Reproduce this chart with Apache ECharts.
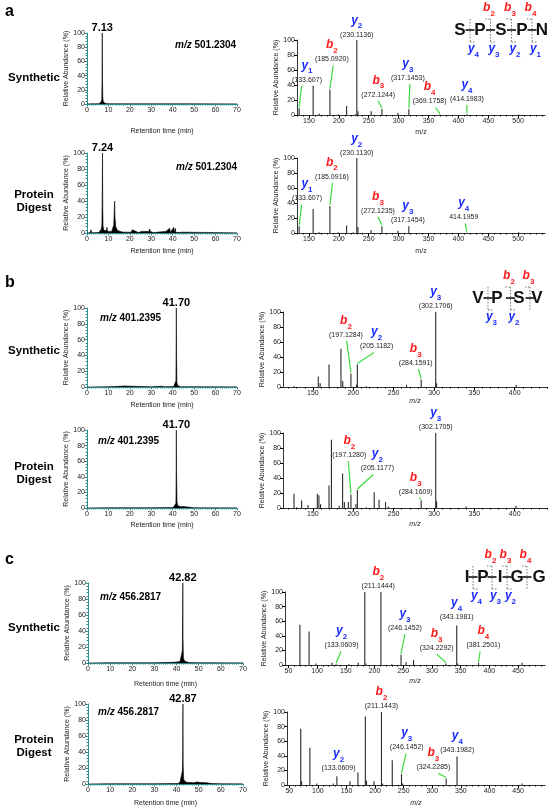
<!DOCTYPE html>
<html lang="en">
<head>
<meta charset="utf-8">
<title>XIC and MS/MS of synthetic and digest peptides</title>
<script src="https://cdn.jsdelivr.net/npm/echarts@6.0.0/dist/echarts.min.js"></script>
<style>
  html, body { margin: 0; padding: 0; background: #fff; }
  #main { width: 550px; height: 808px; }
</style>
</head>
<body>
<div id="main"></div>
<script>
// ===== data =====
// extracted ion chromatograms: [retention time (min), relative abundance (%)]
var xicA1 = [[0,0],[2,0.3],[4,0.3],[5.6,0.5],[6.2,1.5],[6.6,3],[6.9,6],[7.02,35],[7.13,100],[7.22,40],[7.35,10],[7.6,3],[8,1.5],[8.6,0.8],[10,0.3],[30,0.2],[50,0.2],[70,0.2]];
var xicA2 = [[0,0],[1.5,0.3],[1.9,4],[2.2,0.3],[5.5,0.5],[6.3,2],[6.7,5],[6.95,10],[7.1,45],[7.24,100],[7.35,30],[7.5,8],[7.9,3],[8.5,1.5],[9.1,3],[9.3,7],[9.6,2],[10.5,1],[11.5,2],[12.1,7],[12.5,10],[12.75,30],[12.9,40],[13.05,20],[13.4,8],[13.8,6],[14.3,3],[14.8,2],[15.2,5],[15.5,2],[17,1],[17.7,3],[18.3,1],[20.5,1],[21.2,4],[21.5,6],[21.9,2],[24,0.5],[25.4,2],[26,0.5],[28.8,2],[29.2,5],[29.6,2],[30.2,3],[31,0.5],[36.8,2],[37.2,0.5],[38.6,6],[38.9,0.5],[40.4,7],[40.7,0.5],[41.2,6],[41.5,0.5],[44.8,1],[45.5,0.3],[70,0.3]];
var xicB1 = [[0,0],[10,0.3],[17.6,1.2],[18,0.3],[30,0.3],[35,1],[36,0.3],[40.5,0.5],[41.1,2],[41.5,8],[41.62,60],[41.7,100],[41.8,40],[41.95,6],[42.3,2],[42.8,1],[43.5,0.4],[50,0.3],[70,0.3]];
var xicB2 = [[0,0],[10,0.3],[20,0.3],[30,0.3],[40.2,0.6],[41,2],[41.5,6],[41.62,50],[41.7,100],[41.8,45],[42,8],[42.4,3],[43,2],[43.8,1.5],[44.8,2],[45.5,0.5],[50,0.3],[70,0.3]];
var xicC1 = [[0,0],[10,0.3],[30,0.3],[38.5,0.8],[40,1.2],[41.5,1.8],[42.3,2.5],[42.6,15],[42.7,45],[42.82,100],[42.92,30],[43.1,6],[43.6,2.5],[44.5,1.5],[45.5,0.5],[50,0.3],[70,0.3]];
var xicC2 = [[0,0],[10,0.3],[30,0.3],[40.5,0.6],[41.5,2],[42.3,4],[42.6,16],[42.75,30],[42.87,100],[42.97,25],[43.2,6],[43.8,3],[44.8,2],[46,2],[46.9,3],[47.8,1.5],[49.2,2.5],[50.7,2],[51.5,1.2],[53.7,1.5],[55,0.8],[56.5,0.5],[60,0.3],[70,0.3]];

// MS/MS spectra: [m/z, relative abundance (%)]
var msA1 = [[131.5,1],[133.6,9],[157,39],[167,2],[185.09,34],[199,1],[213,12],[228,1],[230.11,100],[232,5],[254,5],[272.12,8],[299,3],[317.15,8],[369.18,0.6],[414.2,1],[501,0.6]];
var msA2 = [[133.6,9],[157,32],[167,1],[185.09,36],[199,1],[213,10],[224,1],[230.11,100],[232,8],[254,4],[272.12,9],[299,3],[317.15,9],[414.2,0.5],[501,1]];
var msB1 = [[126.5,1],[156.7,14],[159,5],[170,30],[184.8,51],[187,8],[197.13,18],[204,3],[205.12,30],[216,1],[266,3],[284.16,10],[302.17,100],[303.2,5],[401.7,3]];
var msB2 = [[126.6,19],[130,1],[136,10],[144,4],[155.5,19],[157.5,17],[159.5,5],[170,30],[173,91],[182.6,3],[186.8,46],[189,8],[194,8],[197.13,18],[203.3,5],[205.12,24],[216,1],[226,21],[232,11],[240,8],[243.5,2],[284.16,10],[302.17,100],[303.2,9],[339.6,2],[401.7,3]];
var msC1 = [[70,55],[86,46],[98,2],[126,3],[133.06,1],[155,1],[171.6,3],[183,100],[185,2],[211.14,100],[230,1],[246.15,14],[255,4],[268,7],[324.23,2],[343.2,54],[345,2],[381.25,3],[457,3]];
var msC2 = [[70,77],[71.5,5],[86,51],[98,2],[127,2],[133.2,12],[156,5],[170,17],[183,94],[185,6],[198,5],[211.14,100],[213,2],[230,34],[246.15,15],[248,2],[324.23,9],[343.2,39],[457,2]];

// annotated fragment ions: [series, number, label, m/z, abundance]
var ionsA1 = [['y','2','(230.1136)',230.11,100],['b','2','(185.0920)',185.09,34],['y','1','(133.607)',133.6,9],['b','3','(272.1244)',272.12,8],['y','3','(317.1453)',317.15,8],['b','4','(369.1758)',369.18,0.6],['y','4','(414.1983)',414.2,1]];
var ionsA2 = [['y','2','(230.1130)',230.11,100],['b','2','(185.0916)',185.09,36],['y','1','(133.607)',133.6,9],['b','3','(272.1235)',272.12,9],['y','3','(317.1454)',317.15,9],['y','4','414.1959',414.2,0.5]];
var ionsB1 = [['y','3','(302.1706)',302.17,100],['b','2','(197.1284)',197.13,18],['y','2','(205.1182)',205.12,30],['b','3','(284.1591)',284.16,10]];
var ionsB2 = [['y','3','(302.1705)',302.17,100],['b','2','(197.1280)',197.13,18],['y','2','(205.1177)',205.12,24],['b','3','(284.1609)',284.16,10]];
var ionsC1 = [['b','2','(211.1444)',211.14,100],['y','3','(246.1452)',246.15,14],['y','4','(343.1981)',343.2,54],['b','3','(324.2292)',324.23,2],['b','4','(381.2501)',381.25,3],['y','2','(133.0609)',133.06,1]];
var ionsC2 = [['b','2','(211.1443)',211.14,100],['y','3','(246.1452)',246.15,15],['y','4','(343.1982)',343.2,39],['b','3','(324.2285)',324.23,9],['y','2','(133.0609)',133.2,12]];

// precursor m/z, apex retention times, row names
var precMz = ['501.2304','501.2304','401.2395','401.2395','456.2817','456.2817'];
var apexRt = [7.13, 7.24, 41.70, 41.70, 42.82, 42.87];
var rowNames = ['Synthetic','Protein\nDigest','Synthetic','Protein\nDigest','Synthetic','Protein\nDigest'];
var panelNames = ['a','b','c'];

// tick labels
var mzTicksA = [150,200,250,300,350,400,450,500];
var mzTicksB = [150,200,250,300,350,400];
var mzTicksC = [50,100,150,200,250,300,350,400,450];

// peptides with b / y ion numbers at each cleavage
var pepA = ['S','P','S','P','N'], bA = ['','2','3','4'], yA = ['4','3','2','1'];
var pepB = ['V','P','S','V'],     bB = ['','2','3'],     yB = ['3','2',''];
var pepC = ['I','P','I','G','G'], bC = ['','2','3','4'], yC = ['4','3','2',''];

// ===== layout =====
var FONT = '"Liberation Sans", Arial, Helvetica, sans-serif';
var TEAL = '#2e8e8e', RED = '#ff1a1a', BLUE = '#1a2bff', GREEN = '#3ddc3d', INK = '#222';

var chromBoxes = [[87,33,150,71],[87,153,150,80],[87,308,150,79],[87,430,150,78],[88,583,155,80],[88,704,155,80]];
var specBoxes = [[297,40,248,75],[297,158,248,75],[283,312,264,75],[283,433,264,75],[285,592,260,73],[287,712,258,73]];
var chromNameGap = [24,15,15,14,18,16];
var specNameGap = [14,15,11,13,13,15];
var specYNameGap = [14,14,12,12,15,15];
var specRange = [[130,545],[130,545],[113,440],[113,440],[44,497],[46,497]];
var specTicks = [mzTicksA, mzTicksA, mzTicksB, mzTicksB, mzTicksC, mzTicksC];
var precPos = [[175,45],[176,167],[100,318],[98,441],[100,597],[98,712]];
var rowNamePos = [[34,78],[34,201],[34,351],[34,473],[34,628],[34,746]];
var panelPos = [[5,12],[5,283],[5,560]];
// label anchor (bottom centre) [m/z, %] and leader start m/z (null = no leader)
var placeA1 = [[230,101,null],[188.3,68,190.6],[146.7,41,137.8],[266,21,265.5],[315.6,43.5,318.9],[352,12,361.7],[414.4,15.5,414.4]];
var placeA2 = [[230,100.5,null],[188.3,69,189.4],[146.7,40,137.8],[265.5,23.5,265.5],[315.6,11,null],[409,14.7,411.7]];
var placeB1 = [[302.2,102,null],[191,63.5,191.8],[229,48,225.7],[277.4,26,280.7]];
var placeB2 = [[302.2,102,null],[195.1,64.4,193.9],[229.9,46.7,224.9],[277.4,15.5,281.5]];
var placeC1 = [[206.5,102,null],[253,44.5,253],[343.1,59,null],[308.2,17,308.2],[389.6,20.5,383.8],[142.5,21,141.4]];
var placeC2 = [[211.1,102,null],[255.3,45.5,254.2],[343.7,42,null],[301.8,18,310.6],[136.1,17,null]];
// peptide diagrams: letter x, cleavage x, letter centre y
var diagrams = [
  {pep: pepA, b: bA, y: yA, xs: [460,480,501,522,542], cuts: [470,490.5,511.5,532], cy: 30},
  {pep: pepB, b: bB, y: yB, xs: [478,497,519,537], cuts: [488,510.5,530], cy: 298},
  {pep: pepC, b: bC, y: yC, xs: [467,483,500,517,539], cuts: [473,492,507,527], cy: 577}
];

var xics = [xicA1, xicA2, xicB1, xicB2, xicC1, xicC2];
var spectra = [msA1, msA2, msB1, msB2, msC1, msC2];
var ions = [ionsA1, ionsA2, ionsB1, ionsB2, ionsC1, ionsC2];
var places = [placeA1, placeA2, placeB1, placeB2, placeC1, placeC2];

function steps(from, to, step) {
    var out = [];
    for (var v = from; v <= to; v += step) out.push(v);
    return out;
}

var smallText = {fontSize: 7, color: INK, fontFamily: FONT};
var grids = [], xAxes = [], yAxes = [], series = [];

for (var r = 0; r < 6; r++) {
    // ---- chromatogram ----
    var cb = chromBoxes[r];
    grids.push({left: cb[0], top: cb[1], width: cb[2], height: cb[3], outerBoundsMode: 'none'});
    var gi = grids.length - 1;
    xAxes.push({
        type: 'value', gridIndex: gi, position: 'bottom', min: 0, max: 70, interval: 10,
        name: 'Retention time (min)', nameLocation: 'middle', nameGap: chromNameGap[r], nameTextStyle: smallText,
        axisLine: {onZero: false, lineStyle: {color: TEAL, width: 1}},
        axisTick: {length: 2.5, lineStyle: {color: TEAL}},
        minorTick: {show: true, splitNumber: 10, length: 1.5, lineStyle: {color: TEAL}},
        axisLabel: {fontSize: 7, color: INK, margin: 3, fontFamily: FONT},
        splitLine: {show: false}
    });
    yAxes.push({
        type: 'value', gridIndex: gi, min: 0, max: 100, interval: 20,
        name: 'Relative Abundance (%)', nameLocation: 'middle', nameGap: 9, nameTextStyle: smallText,
        axisLine: {show: true, lineStyle: {color: TEAL, width: 1}},
        axisTick: {show: true, length: 2.5, lineStyle: {color: TEAL}},
        minorTick: {show: true, splitNumber: 5, length: 1.5, lineStyle: {color: TEAL}},
        axisLabel: {fontSize: 7, color: INK, margin: 2, fontFamily: FONT},
        splitLine: {show: false}
    });
    series.push({
        type: 'line', xAxisIndex: xAxes.length - 1, yAxisIndex: yAxes.length - 1,
        data: xics[r], showSymbol: false, symbol: 'none',
        lineStyle: {color: '#000', width: 0.6}, areaStyle: {color: '#000', opacity: 1}
    });

    // ---- MS/MS spectrum ----
    var sb = specBoxes[r];
    grids.push({left: sb[0], top: sb[1], width: sb[2], height: sb[3], outerBoundsMode: 'none'});
    gi = grids.length - 1;
    xAxes.push({
        type: 'value', gridIndex: gi, position: 'bottom', min: specRange[r][0], max: specRange[r][1],
        name: 'm/z', nameLocation: 'middle', nameGap: specNameGap[r],
        nameTextStyle: {fontSize: 7, color: INK, fontFamily: FONT, fontStyle: r > 1 ? 'italic' : 'normal'},
        axisLine: {onZero: false, lineStyle: {color: '#000', width: 0.8}},
        axisTick: {length: 3, lineStyle: {color: '#000'}, customValues: specTicks[r]},
        axisLabel: {fontSize: 7, color: INK, margin: 3, fontFamily: FONT, customValues: specTicks[r]},
        splitLine: {show: false}
    });
    var mainX = xAxes.length - 1;
    // minor ticks every 10 m/z
    xAxes.push({
        type: 'value', gridIndex: gi, position: 'bottom', min: specRange[r][0], max: specRange[r][1],
        axisLine: {show: false, onZero: false},
        axisTick: {show: true, length: 1.5, lineStyle: {color: '#000'},
            customValues: steps(Math.ceil(specRange[r][0] / 10) * 10, specRange[r][1], 10)},
        axisLabel: {show: false}, splitLine: {show: false}
    });
    yAxes.push({
        type: 'value', gridIndex: gi, min: 0, max: 100, interval: 20,
        name: 'Relative Abundance (%)', nameLocation: 'middle', nameGap: specYNameGap[r], nameTextStyle: smallText,
        axisLine: {show: true, lineStyle: {color: '#000', width: 0.8}},
        axisTick: {show: true, length: 3, lineStyle: {color: '#000'}},
        axisLabel: {fontSize: 7, color: INK, margin: 2, fontFamily: FONT},
        splitLine: {show: false}
    });
    series.push({
        type: 'bar', xAxisIndex: mainX, yAxisIndex: yAxes.length - 1,
        data: spectra[r], barWidth: 1.1, itemStyle: {color: '#2a2a2a'}
    });
}

var chart = echarts.init(document.getElementById('main'));
chart.setOption({
    animation: false,
    backgroundColor: '#fff',
    textStyle: {fontFamily: FONT},
    grid: grids,
    xAxis: xAxes,
    yAxis: yAxes,
    series: series
});

// ===== annotations placed through the axes =====
function ionRich(col) {
    return {
        m: {fontFamily: FONT, fontSize: 12, fontWeight: 'bold', fontStyle: 'italic', fill: col, lineHeight: 12, verticalAlign: 'top'},
        s: {fontFamily: FONT, fontSize: 8, fontWeight: 'bold', fill: col, lineHeight: 16, verticalAlign: 'bottom'},
        n: {fontFamily: FONT, fontSize: 7, fill: INK, lineHeight: 9}
    };
}
function ionLabel(x, y, type, num, extra, vAlign) {
    var text = '{m|' + type + '}{s|' + num + '}' + (extra ? '\n{n|' + extra + '}' : '');
    return {type: 'text', silent: true, style: {
        x: x, y: y, text: text, align: 'center', verticalAlign: vAlign,
        rich: ionRich(type === 'b' ? RED : BLUE)
    }};
}
function plainText(x, y, text, size, align, extra) {
    var st = {x: x, y: y, text: text, fontFamily: FONT, fontSize: size, fontWeight: 'bold',
        fill: '#000', align: align, verticalAlign: 'middle', lineHeight: size + 1};
    for (var k in extra) st[k] = extra[k];
    return {type: 'text', silent: true, style: st};
}
function seg(x1, y1, x2, y2, stroke, w, dash) {
    return {type: 'line', silent: true, shape: {x1: x1, y1: y1, x2: x2, y2: y2},
        style: {stroke: stroke, lineWidth: w, lineDash: dash || null}};
}

var gfx = [];
for (var p = 0; p < 3; p++) {
    gfx.push(plainText(panelPos[p][0], panelPos[p][1], panelNames[p], 16, 'left'));
}
for (r = 0; r < 6; r++) {
    gfx.push(plainText(rowNamePos[r][0], rowNamePos[r][1], rowNames[r], 11.5, 'center', {lineHeight: 13}));
    gfx.push({type: 'text', silent: true, style: {
        x: precPos[r][0], y: precPos[r][1], text: '{i|m/z}{n| ' + precMz[r] + '}',
        align: 'left', verticalAlign: 'middle',
        rich: {
            i: {fontFamily: FONT, fontSize: 10, fontWeight: 'bold', fontStyle: 'italic', fill: '#000'},
            n: {fontFamily: FONT, fontSize: 10, fontWeight: 'bold', fill: '#000'}
        }
    }});
    var ap = chart.convertToPixel({seriesIndex: 2 * r}, [apexRt[r], 100]);
    gfx.push(plainText(ap[0], ap[1] - 5, apexRt[r].toFixed(2), 11, 'center'));

    var si = 2 * r + 1;
    ions[r].forEach(function (ion, k) {
        var pl = places[r][k];
        var lp = chart.convertToPixel({seriesIndex: si}, [pl[0], pl[1]]);
        gfx.push(ionLabel(lp[0], lp[1], ion[0], ion[1], ion[2], 'bottom'));
        if (pl[2] !== null) {
            var a = chart.convertToPixel({seriesIndex: si}, [pl[2], pl[1]]);
            var b = chart.convertToPixel({seriesIndex: si}, [ion[3], ion[4]]);
            gfx.push(seg(a[0], a[1] + 1.5, b[0], b[1] - 1, GREEN, 1.2));
        }
    });
}

// peptide fragmentation diagrams
diagrams.forEach(function (d) {
    d.pep.forEach(function (aa, i) {
        gfx.push(plainText(d.xs[i], d.cy, aa, 17, 'center', {fill: '#111'}));
    });
    d.cuts.forEach(function (cx, i) {
        var top = d.cy - 11, bot = d.cy + 12;
        gfx.push(seg(cx - 4.5, d.cy, cx + 4.5, d.cy, '#111', 1.6));
        gfx.push(seg(cx, top, cx, bot, '#555', 0.8, [1.5, 1.5]));
        if (d.b[i]) {
            gfx.push(seg(cx - 5, top, cx, top, '#555', 0.8, [1.5, 1.5]));
            gfx.push(ionLabel(cx - 1.5, top - 1, 'b', d.b[i], '', 'bottom'));
        }
        if (d.y[i]) {
            gfx.push(seg(cx, bot, cx + 5, bot, '#555', 0.8, [1.5, 1.5]));
            gfx.push(ionLabel(cx + 3.5, bot + 1, 'y', d.y[i], '', 'top'));
        }
    });
});

chart.setOption({graphic: gfx});
</script>
</body>
</html>
